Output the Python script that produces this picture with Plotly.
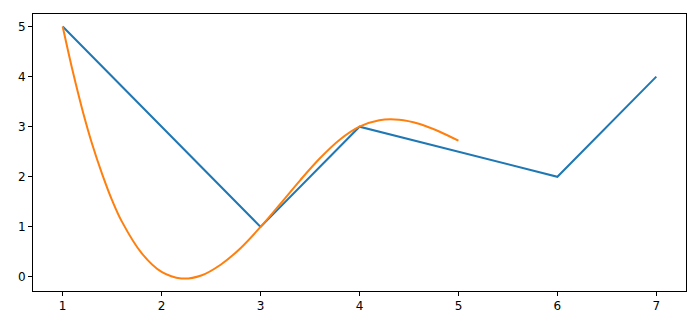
import plotly.graph_objects as go

line_x = [1, 3, 4, 6, 7]
line_y = [5, 1, 3, 2, 4]

curve_x = [1.0, 1.1, 1.2, 1.3, 1.4, 1.5, 1.6, 1.8, 2.0, 2.2, 2.4, 2.6, 2.8, 3.0,
           3.2, 3.4, 3.6, 3.8, 4.0, 4.2, 4.4, 4.6, 4.8, 5.0]
curve_y = [5.00, 4.12, 3.33, 2.64, 2.05, 1.53, 1.10, 0.47, 0.10, -0.03, 0.03, 0.25, 0.58, 1.00,
           1.46, 1.93, 2.37, 2.74, 3.00, 3.13, 3.14, 3.06, 2.91, 2.72]

x_ticks = [1, 2, 3, 4, 5, 6, 7]
y_ticks = [0, 1, 2, 3, 4, 5]

fig = go.Figure()
fig.add_trace(go.Scatter(x=line_x, y=line_y, mode="lines",
                         line=dict(color="#1f77b4", width=2)))
fig.add_trace(go.Scatter(x=curve_x, y=curve_y, mode="lines",
                         line=dict(color="#ff7f0e", width=2, shape="spline", smoothing=1)))

axis_common = dict(showgrid=False, zeroline=False, showline=True, linecolor="black",
                   linewidth=1, mirror=True, ticks="outside", ticklen=4, tickwidth=1,
                   tickcolor="black", tickfont=dict(family="DejaVu Sans", size=12, color="black"))

fig.update_layout(
    width=700, height=327,
    margin=dict(l=33, r=14, t=14, b=36),
    paper_bgcolor="white", plot_bgcolor="white",
    showlegend=False,
    xaxis=dict(range=[0.7, 7.3], tickvals=x_ticks, ticktext=[str(v) for v in x_ticks], **axis_common),
    yaxis=dict(range=[-0.28, 5.25], tickvals=y_ticks, ticktext=[str(v) for v in y_ticks], **axis_common),
)

fig.write_html("out.html")
